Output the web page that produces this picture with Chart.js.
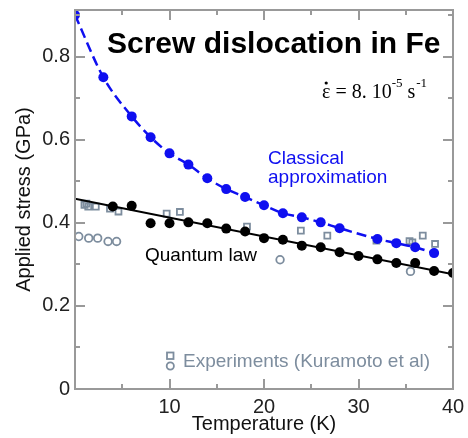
<!DOCTYPE html>
<html><head><meta charset="utf-8">
<script src="https://cdn.jsdelivr.net/npm/chart.js@4/dist/chart.umd.min.js"></script>
<style>html,body{margin:0;padding:0;background:#fff}#wrap{width:468px;height:438px}</style>
</head><body><div id="wrap"><canvas id="c" width="468" height="438"></canvas></div>
<script>
const classicalT = [0,3,6,8,10,12,14,16,18,20,22,24,26,28,32,34,36,38];
const classicalStress = [0.900,0.750,0.656,0.606,0.567,0.540,0.507,0.481,0.462,0.442,0.423,0.413,0.401,0.387,0.361,0.351,0.341,0.327];
const quantumT = [4,6,8,10,12,14,16,18,20,22,24,26,28,30,32,34,36,38,40];
const quantumStress = [0.439,0.441,0.399,0.399,0.401,0.399,0.386,0.379,0.363,0.359,0.345,0.341,0.329,0.320,0.312,0.303,0.303,0.284,0.279];
const fitT = [0,40];
const fitStress = [0.458,0.276];
const expSquareT = [1.0,1.2,1.4,2.2,3.7,4.6,9.7,11.1,18.2,23.9,26.7,31.9,35.4,35.7,36.8,38.1];
const expSquareStress = [0.443,0.446,0.439,0.439,0.434,0.427,0.422,0.426,0.391,0.381,0.369,0.357,0.356,0.353,0.369,0.349];
const expCircleT = [0.4,1.45,2.4,3.5,4.4,21.7,35.5];
const expCircleStress = [0.367,0.363,0.363,0.355,0.355,0.311,0.283];
const xTickLabels = [10,20,30,40];
const xMinorTicks = [5,15,25,35];
const yTickLabels = [0,0.2,0.4,0.6,0.8];
const yMinorTicks = [0.1,0.3,0.5,0.7,0.9];

const pts = (xs, ys) => xs.map((x,i)=>({x:x, y:ys[i]}));
const BLUE = '#0f0ff0', GREY = '#7d8d9e', FRAME = '#999999';
const SANS = '"Liberation Sans", Arial, Helvetica, sans-serif';
const SERIF = '"Liberation Serif", "Times New Roman", serif';

const innerTicks = {
  id: 'innerTicks',
  afterDraw(chart) {
    const ctx = chart.ctx, a = chart.chartArea, xs = chart.scales.x, ys = chart.scales.y;
    ctx.save();
    ctx.setLineDash([]);
    ctx.globalAlpha = 1;
    ctx.strokeStyle = FRAME; ctx.lineWidth = 2;
    ctx.strokeRect(a.left, a.top, a.right - a.left, a.bottom - a.top);
    const xt = xTickLabels.map(v=>[v,10]).concat(xMinorTicks.map(v=>[v,5]));
    xt.forEach(([v,l]) => {
      const px = Math.round(xs.getPixelForValue(v));
      ctx.beginPath(); ctx.moveTo(px, a.bottom); ctx.lineTo(px, a.bottom - l);
      ctx.moveTo(px, a.top); ctx.lineTo(px, a.top + l); ctx.stroke();
    });
    const yt = yTickLabels.map(v=>[v,10]).concat(yMinorTicks.map(v=>[v,5]));
    yt.forEach(([v,l]) => {
      const py = Math.round(ys.getPixelForValue(v));
      ctx.beginPath(); ctx.moveTo(a.left, py); ctx.lineTo(a.left + l, py);
      ctx.moveTo(a.right, py); ctx.lineTo(a.right - l, py); ctx.stroke();
    });

    ctx.textBaseline = 'alphabetic'; ctx.textAlign = 'left';
    ctx.fillStyle = '#000';
    ctx.font = 'bold 30px ' + SANS;
    ctx.fillText('Screw dislocation in Fe', 107, 53);
    // strain rate
    let x = 322; const by = 98;
    ctx.font = '20px ' + SERIF;
    const eps = 'ε';
    ctx.fillText(eps, x, by);
    const ew = ctx.measureText(eps).width;
    ctx.beginPath(); ctx.arc(x + ew/2, by - 15, 1.6, 0, Math.PI*2); ctx.fill();
    x += ew;
    const s1 = ' = 8. 10';
    ctx.fillText(s1, x, by); x += ctx.measureText(s1).width;
    ctx.font = '13px ' + SERIF;
    ctx.fillText('-5', x, by - 11); x += ctx.measureText('-5').width + 5;
    ctx.font = '20px ' + SERIF;
    ctx.fillText('s', x, by); x += ctx.measureText('s').width + 1;
    ctx.font = '13px ' + SERIF;
    ctx.fillText('-1', x, by - 11);
    // labels
    ctx.font = '19px ' + SANS;
    ctx.fillStyle = BLUE;
    ctx.fillText('Classical', 268, 164);
    ctx.fillText('approximation', 268, 183);
    ctx.fillStyle = '#000';
    ctx.fillText('Quantum law', 145, 261);
    ctx.fillStyle = GREY;
    ctx.fillText('Experiments (Kuramoto et al)', 183, 367);
    ctx.strokeStyle = GREY; ctx.lineWidth = 1.8;
    ctx.strokeRect(167, 352.5, 6.5, 6.5);
    ctx.beginPath(); ctx.arc(170.3, 366, 3.6, 0, Math.PI*2); ctx.stroke();
    ctx.restore();
  }
};

new Chart(document.getElementById('c'), {
  type: 'scatter',
  data: { datasets: [
    { label:'Classical approximation', data: pts(classicalT, classicalStress), showLine:true,
      borderColor: BLUE, backgroundColor: BLUE, borderWidth: 2.5, borderDash:[10,5],
      cubicInterpolationMode:'monotone', pointRadius: 5, pointBorderWidth: 0 },
    { label:'Quantum law fit', data: pts(fitT, fitStress), showLine:true,
      borderColor:'#000', borderWidth:2, pointRadius:0 },
    { label:'Quantum law', data: pts(quantumT, quantumStress), showLine:false,
      backgroundColor:'#000', borderColor:'#000', pointRadius:5, pointBorderWidth:0 },
    { label:'Experiments squares', data: pts(expSquareT, expSquareStress), showLine:false,
      pointStyle:'rect', pointRadius:4.2, borderColor: GREY, backgroundColor:'rgba(0,0,0,0)', pointBorderWidth:1.8 },
    { label:'Experiments circles', data: pts(expCircleT, expCircleStress), showLine:false,
      pointStyle:'circle', pointRadius:3.8, borderColor: GREY, backgroundColor:'rgba(0,0,0,0)', pointBorderWidth:1.8 }
  ]},
  options: {
    responsive:false, animation:false, events:[],
    layout:{ padding:0 },
    plugins:{ legend:{display:false}, tooltip:{enabled:false} },
    scales: {
      x: { type:'linear', position:'bottom', min:0, max:40,
        afterFit(s){ s.height = 49; s.paddingLeft = 0; s.paddingRight = 0; },
        afterBuildTicks(s){ s.ticks = xTickLabels.map(v=>({value:v})); },
        grid:{ display:false, drawTicks:false },
        border:{ display:false },
        ticks:{ color:'#222', font:{family:SANS, size:20}, padding:6, maxRotation:0, autoSkip:false },
        title:{ display:true, text:'Temperature (K)', color:'#111', font:{family:SANS, size:20}, padding:{top:0,bottom:2} } },
      x2: { type:'linear', position:'top', min:0, max:40,
        afterFit(s){ s.height = 10; s.paddingLeft = 0; s.paddingRight = 0; },
        grid:{ display:false, drawTicks:false }, border:{ display:false },
        ticks:{ display:false } },
      y: { type:'linear', position:'left', min:0, max:0.912,
        afterFit(s){ s.width = 75; s.paddingTop = 0; s.paddingBottom = 0; },
        afterBuildTicks(s){ s.ticks = yTickLabels.map(v=>({value:v})); },
        grid:{ display:false, drawTicks:false },
        border:{ display:false },
        ticks:{ color:'#222', font:{family:SANS, size:20}, padding:5, autoSkip:false,
          callback:(v)=> String(v) },
        title:{ display:true, text:'Applied stress (GPa)', color:'#111', font:{family:SANS, size:20}, padding:{top:12,bottom:0} } },
      y2: { type:'linear', position:'right', min:0, max:0.912,
        afterFit(s){ s.width = 15; s.paddingTop = 0; s.paddingBottom = 0; },
        grid:{ display:false, drawTicks:false }, border:{ display:false },
        ticks:{ display:false } }
    }
  },
  plugins:[innerTicks]
});
</script></body></html>
